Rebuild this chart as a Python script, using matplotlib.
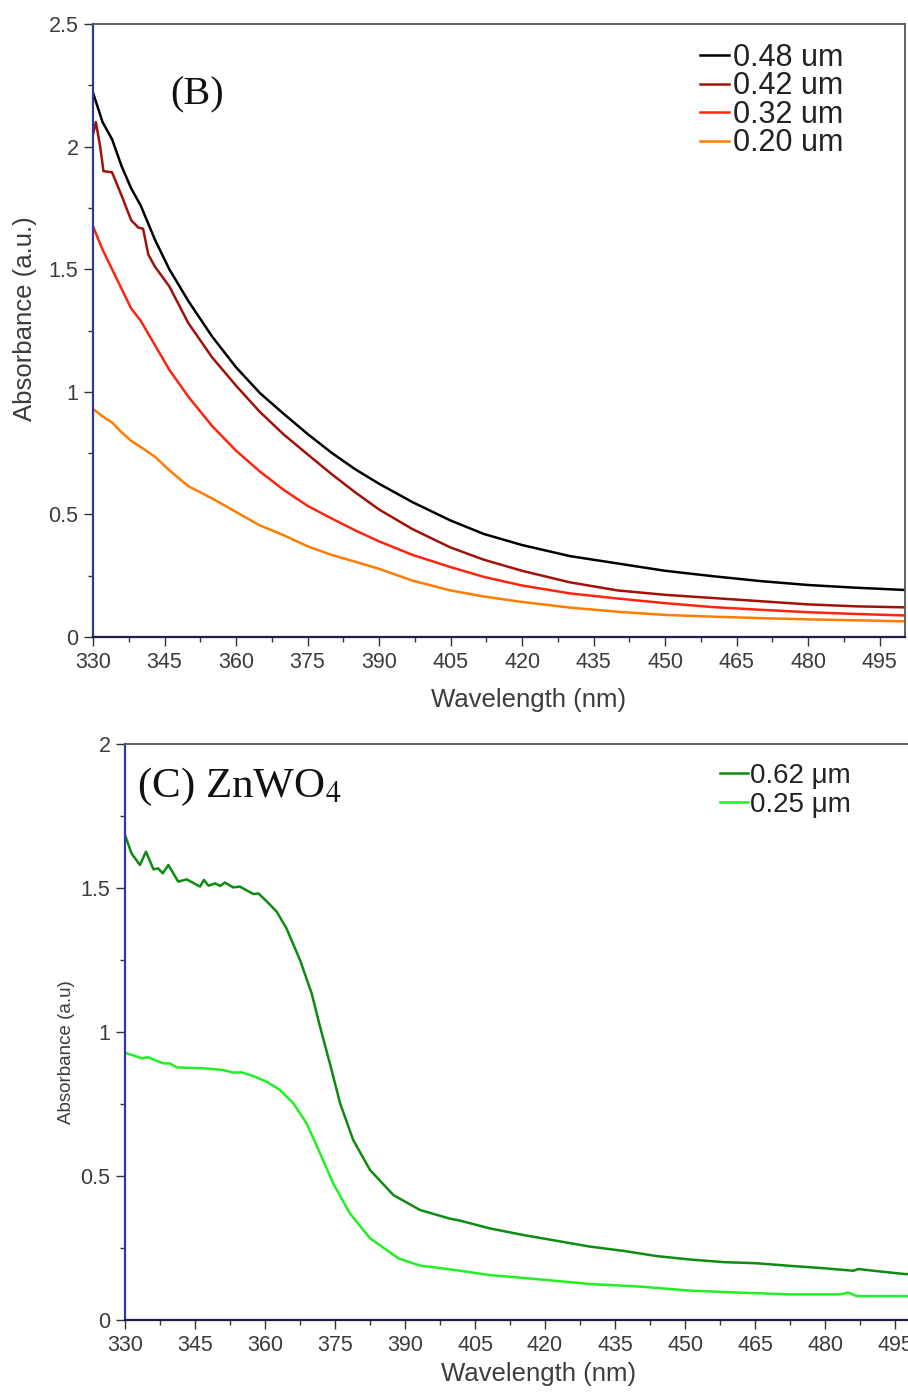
import matplotlib
matplotlib.use("Agg")
import matplotlib.pyplot as plt
from matplotlib.ticker import MultipleLocator, FuncFormatter

plt.rcParams['font.family'] = ['Liberation Sans', 'DejaVu Sans']
plt.rcParams['mathtext.fontset'] = 'stix'

# ---- panel (B): absorbance vs wavelength for four film thicknesses ----
wl_b = [330, 332, 334, 336, 338, 340, 343, 346, 350, 355, 360, 365, 370, 375,
        380, 385, 390, 397, 405, 412, 420, 430, 440, 450, 460, 470, 480, 490, 500]
abs_048 = [2.22, 2.10, 2.03, 1.92, 1.83, 1.76, 1.62, 1.50, 1.37, 1.225, 1.10, 0.995, 0.91, 0.828,
           0.752, 0.684, 0.625, 0.55, 0.475, 0.42, 0.375, 0.33, 0.30, 0.27, 0.248, 0.228, 0.212, 0.201, 0.192]
wl_b042 = [330, 330.6, 331.5, 332.2, 334, 336, 338, 339.5, 340.5, 341.6, 343, 346, 350, 355, 360, 365,
           370, 375, 380, 385, 390, 397, 405, 412, 420, 430, 440, 450, 460, 470, 480, 490, 500]
abs_042 = [2.05, 2.10, 2.00, 1.90, 1.895, 1.80, 1.70, 1.67, 1.665, 1.56, 1.51, 1.43, 1.28, 1.14, 1.025, 0.918,
           0.826, 0.745, 0.665, 0.59, 0.52, 0.44, 0.365, 0.315, 0.27, 0.223, 0.19, 0.172, 0.159, 0.146,
           0.133, 0.125, 0.121]
abs_032 = [1.675, 1.58, 1.50, 1.42, 1.34, 1.29, 1.19, 1.09, 0.98, 0.86, 0.76, 0.675, 0.60, 0.535,
           0.484, 0.435, 0.39, 0.335, 0.285, 0.245, 0.21, 0.178, 0.157, 0.138, 0.122, 0.111, 0.101, 0.094, 0.088]
abs_020 = [0.93, 0.90, 0.875, 0.835, 0.80, 0.775, 0.735, 0.68, 0.615, 0.565, 0.51, 0.455, 0.415, 0.37,
           0.335, 0.307, 0.278, 0.23, 0.19, 0.165, 0.143, 0.12, 0.103, 0.09, 0.083, 0.077, 0.072, 0.068, 0.064]

# ---- panel (C): ZnWO4 ----
wl_c062 = [330, 331.4, 333.2, 334.5, 336.1, 337.1, 338.1, 339.3, 341.4, 343.2, 346.1, 346.9, 347.9,
           349.3, 350.4, 351.4, 353.2, 354.6, 357.5, 358.6, 360.4, 362.5, 364.6, 367.5, 370, 371.8,
           373.9, 376.1, 378.9, 382.5, 387.5, 393.2, 399.6, 401.8, 408.2, 415.4, 422.5, 429.6, 436.8,
           443.9, 451.1, 458.2, 465.4, 472.5, 479.6, 486.1, 487.1, 490.4, 496.8, 500]
abs_062 = [1.684, 1.62, 1.58, 1.626, 1.565, 1.568, 1.551, 1.58, 1.522, 1.53, 1.505, 1.528, 1.508,
           1.516, 1.507, 1.519, 1.502, 1.505, 1.479, 1.481, 1.453, 1.418, 1.36, 1.25, 1.134, 1.018,
           0.891, 0.752, 0.625, 0.521, 0.434, 0.382, 0.352, 0.345, 0.318, 0.295, 0.275, 0.255, 0.24,
           0.222, 0.21, 0.201, 0.197, 0.188, 0.18, 0.171, 0.177, 0.171, 0.16, 0.157]
wl_c025 = [330, 333.6, 335, 338.2, 339.6, 341.1, 346.8, 351, 353.2, 355, 357.5, 360.4, 363.2, 366.1,
           368.9, 371.8, 374.6, 378.2, 382.5, 388.6, 393.2, 399.6, 408.2, 418.9, 429.6, 440.4, 451.1,
           461.8, 472.5, 483.2, 485, 486.8, 497.5, 500]
abs_025 = [0.928, 0.909, 0.912, 0.891, 0.891, 0.877, 0.874, 0.868, 0.859, 0.86, 0.847, 0.827, 0.799,
           0.752, 0.683, 0.579, 0.475, 0.37, 0.284, 0.214, 0.189, 0.176, 0.156, 0.141, 0.125, 0.116,
           0.102, 0.095, 0.089, 0.089, 0.095, 0.083, 0.083, 0.082]

W, H = 908, 1393
fig = plt.figure(figsize=(W / 100, H / 100), dpi=100)

tick_col = "#3c3c3c"


def style_axes(ax, left_col, ytop):
    ax.spines["left"].set_color(left_col)
    ax.spines["left"].set_linewidth(1.6)
    ax.spines["bottom"].set_color("#1c1c48")
    ax.spines["bottom"].set_linewidth(1.6)
    for s in ("top", "right"):
        ax.spines[s].set_color("#555555")
        ax.spines[s].set_linewidth(1.3)
    ax.xaxis.set_major_locator(MultipleLocator(15))
    ax.xaxis.set_minor_locator(MultipleLocator(7.5))
    ax.yaxis.set_major_locator(MultipleLocator(0.5))
    ax.yaxis.set_minor_locator(MultipleLocator(0.25))
    ax.yaxis.set_major_formatter(FuncFormatter(lambda v, p: f"{v:g}"))
    ax.tick_params(which="major", direction="out", length=6.5, width=1.0, color="#333333",
                   labelsize=15.5, labelcolor=tick_col, pad=4)
    ax.tick_params(which="minor", direction="out", length=3.8, width=1.0, color="#333333")
    ax.tick_params(top=False, right=False)
    ax.set_ylim(0, ytop)


# ---------- panel B ----------
axb = fig.add_axes([93 / W, 1 - 637 / H, (905 - 93) / W, (637 - 24) / H])
axb.plot(wl_b, abs_048, color="#000000", lw=1.8, label="0.48 um")
axb.plot(wl_b042, abs_042, color="#a01208", lw=1.8, label="0.42 um")
axb.plot(wl_b, abs_032, color="#ff2410", lw=1.8, label="0.32 um")
axb.plot(wl_b, abs_020, color="#ff7c00", lw=1.8, label="0.20 um")
axb.set_xlim(330, 500.3)
style_axes(axb, "#2e3a92", 2.5)
axb.set_xlabel("Wavelength (nm)", fontsize=18.5, color=tick_col)
axb.set_ylabel("Absorbance (a.u.)", fontsize=18.5, color=tick_col)
axb.xaxis.set_label_coords(0.536, -0.083)
axb.yaxis.set_label_coords(-0.069, 0.52)
axb.text(0.128, 0.884, "(B)", transform=axb.transAxes, fontsize=29,
         family="Liberation Serif", ha="center", va="center", color="#111111")
leg = axb.legend(loc="upper left", bbox_to_anchor=(700 / W, 1 - 43 / H),
                 bbox_transform=fig.transFigure, frameon=False, fontsize=22,
                 handlelength=0.95, handletextpad=0.13, labelspacing=-0.05,
                 borderpad=0, borderaxespad=0)
for t in leg.get_texts():
    t.set_color("#222222")

# ---------- panel C ----------
right_px = 125 + (500 - 330) * 70 / 15
axc = fig.add_axes([125 / W, 1 - 1320 / H, (right_px - 125) / W, (1320 - 744) / H])
axc.plot(wl_c062, abs_062, color="#0c8c10", lw=1.8, label="0.62 μm")
axc.plot(wl_c025, abs_025, color="#22f022", lw=1.8, label="0.25 μm")
axc.set_xlim(330, 500)
style_axes(axc, "#3038a8", 2.0)
axc.set_xlabel("Wavelength (nm)", fontsize=18.5, color=tick_col)
axc.set_ylabel("Absorbance (a.u)", fontsize=13.5, color=tick_col)
axc.xaxis.set_label_coords(0.521, -0.073)
axc.yaxis.set_label_coords(-0.063, 0.465)
axc.text(0.015, 0.908, r"(C) ZnWO$_4$", transform=axc.transAxes, fontsize=31,
         family="Liberation Serif", ha="left", va="baseline", color="#111111")
leg2 = axc.legend(loc="upper left", bbox_to_anchor=(720 / W, 1 - 763 / H),
                  bbox_transform=fig.transFigure, frameon=False, fontsize=20,
                  handlelength=1.0, handletextpad=0.07, labelspacing=0.1,
                  borderpad=0, borderaxespad=0)
for t in leg2.get_texts():
    t.set_color("#222222")

fig.savefig("out.png", dpi=100)
